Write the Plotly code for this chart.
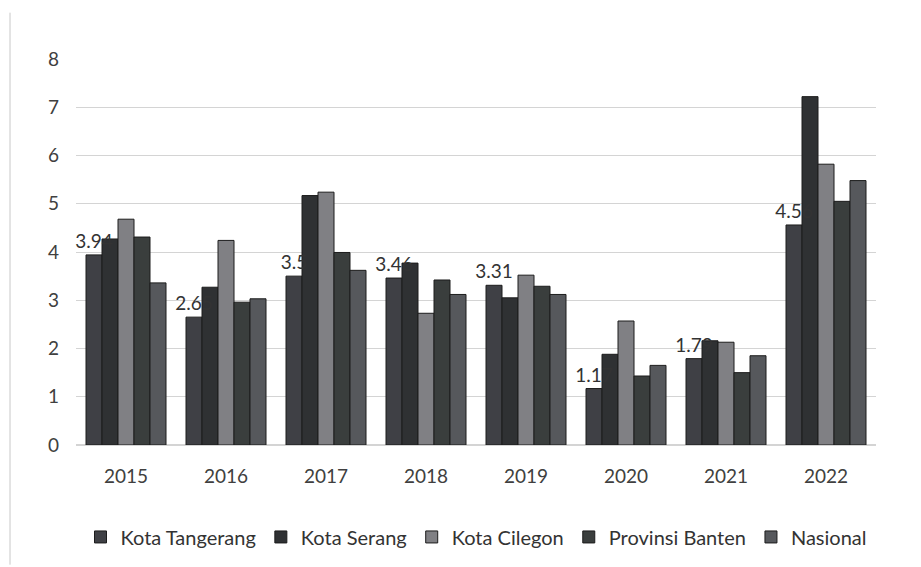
import plotly.graph_objects as go

years = ["2015", "2016", "2017", "2018", "2019", "2020", "2021", "2022"]
kota_tangerang = [3.94, 2.65, 3.5, 3.46, 3.31, 1.17, 1.79, 4.56]
kota_serang = [4.27, 3.27, 5.17, 3.77, 3.05, 1.88, 2.16, 7.22]
kota_cilegon = [4.68, 4.24, 5.24, 2.73, 3.52, 2.57, 2.13, 5.82]
provinsi_banten = [4.31, 2.96, 3.99, 3.42, 3.29, 1.43, 1.50, 5.05]
nasional = [3.36, 3.03, 3.62, 3.12, 3.12, 1.65, 1.85, 5.48]
tangerang_labels = ["3.94", "2.65", "3.5", "3.46", "3.31", "1.17", "1.79", "4.56"]

series = [
    ("Kota Tangerang", kota_tangerang, "#3f4045"),
    ("Kota Serang", kota_serang, "#2f3133"),
    ("Kota Cilegon", kota_cilegon, "#808084"),
    ("Provinsi Banten", provinsi_banten, "#3a3e3d"),
    ("Nasional", nasional, "#56585c"),
]

FONT = "Lato"
fig = go.Figure()
for i, (name, vals, col) in enumerate(series):
    fig.add_trace(go.Bar(
        name=name, x=years, y=vals, offsetgroup=str(i),
        marker=dict(color=col, line=dict(color="#1c1c1c", width=1)),
        hoverinfo="skip"))

# data labels for Kota Tangerang drawn on top of all bars
fig.add_trace(go.Bar(
    name="Kota Tangerang labels", x=years, y=kota_tangerang, offsetgroup="0",
    marker=dict(color="rgba(0,0,0,0)", line=dict(width=16, color="rgba(0,0,0,0)")),
    text=tangerang_labels, textposition="outside", constraintext="none",
    cliponaxis=False, textfont=dict(size=19, color="#333333", family=FONT),
    showlegend=False, hoverinfo="skip"))

fig.update_layout(
    width=913, height=559,
    margin=dict(l=68, r=45, t=51, b=121),
    paper_bgcolor="white", plot_bgcolor="white",
    barmode="group", bargap=0.2, bargroupgap=0,
    font=dict(family=FONT, size=19, color="#404040"),
    showlegend=True,
    legend=dict(orientation="h", x=0.5, xanchor="center", y=-0.235, yanchor="middle",
                font=dict(size=20, color="#333333"), itemwidth=30,
                traceorder="normal"),
    xaxis=dict(showline=False, ticks="", ticklabelstandoff=18,
               tickfont=dict(size=19, color="#404040")),
    yaxis=dict(range=[0, 8], dtick=1, showgrid=True, gridcolor="#d4d4d4", gridwidth=1.3,
               zeroline=True, zerolinecolor="#d4d4d4", showline=False,
               ticklabelstandoff=16, tickfont=dict(size=19, color="#404040")),
    shapes=[dict(type="line", xref="paper", yref="paper",
                 x0=-0.0825, x1=-0.0825, y0=-0.31, y1=1.12,
                 line=dict(color="#c8c8c8", width=1))],
)

fig.write_html("out.html")
